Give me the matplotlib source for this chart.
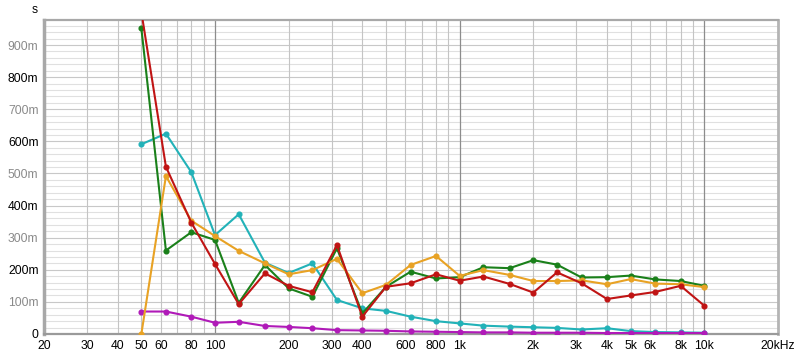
import numpy as np
import matplotlib
matplotlib.use("Agg")
import matplotlib.pyplot as plt

# 1/3 octave band centres (Hz)
freqs = [50, 63, 80, 100, 125, 160, 200, 250, 315, 400, 500, 630, 800,
         1000, 1250, 1600, 2000, 2500, 3150, 4000, 5000, 6300, 8000, 10000]

# decay times (s)
green = [0.952, 0.260, 0.317, 0.293, 0.097, 0.215, 0.142, 0.116, 0.267, 0.064,
         0.147, 0.194, 0.173, 0.177, 0.208, 0.205, 0.230, 0.216, 0.176, 0.177,
         0.182, 0.170, 0.165, 0.150]
red = [1.003, 0.521, 0.347, 0.218, 0.093, 0.189, 0.150, 0.130, 0.277, 0.054,
       0.147, 0.158, 0.186, 0.166, 0.179, 0.156, 0.129, 0.192, 0.158, 0.109,
       0.120, 0.131, 0.150, 0.088]
orange = [0.0, 0.492, 0.353, 0.305, 0.259, 0.220, 0.186, 0.199, 0.234, 0.127,
          0.153, 0.215, 0.243, 0.181, 0.199, 0.184, 0.165, 0.165, 0.167, 0.155,
          0.171, 0.157, 0.155, 0.146]
cyan = [0.591, 0.624, 0.504, 0.308, 0.373, 0.222, 0.190, 0.220, 0.106, 0.080,
        0.072, 0.054, 0.040, 0.033, 0.026, 0.023, 0.021, 0.019, 0.014, 0.018,
        0.009, 0.006, 0.005, 0.004]
purple = [0.070, 0.070, 0.054, 0.035, 0.038, 0.025, 0.022, 0.018, 0.012, 0.011,
          0.010, 0.008, 0.007, 0.006, 0.005, 0.005, 0.004, 0.004, 0.004, 0.003,
          0.003, 0.003, 0.003, 0.003]

xtick_vals = [20, 30, 40, 50, 60, 80, 100, 200, 300, 400, 600, 800, 1000,
              2000, 3000, 4000, 5000, 6000, 8000, 10000, 20000]
xtick_labels = ["20", "30", "40", "50", "60", "80", "100", "200", "300", "400",
                "600", "800", "1k", "2k", "3k", "4k", "5k", "6k", "8k", "10k",
                "20kHz"]
ytick_vals = [0, 0.1, 0.2, 0.3, 0.4, 0.5, 0.6, 0.7, 0.8, 0.9]
ytick_labels = ["0", "100m", "200m", "300m", "400m", "500m", "600m", "700m",
                "800m", "900m"]

plt.rcParams['font.family'] = ['Liberation Sans', 'DejaVu Sans']

fig = plt.figure(figsize=(8, 3.6), dpi=100)
ax = fig.add_axes([44/800, 26/360, 734/800, 314/360])
ax.set_xscale('log')
ax.set_xlim(20, 20000)
ax.set_ylim(0, 0.978)

# grid
for y in np.arange(0.02, 0.97, 0.02):
    major = abs(y*10 - round(y*10)) < 1e-6
    ax.axhline(y, color='#c8c8c8' if major else '#e0e0e0', lw=0.8, zorder=0)
for dec in [10, 100, 1000]:
    for m in range(2, 10):
        f = dec*m
        if 20 < f < 20000:
            ax.axvline(f, color='#c4c4c4', lw=0.8, zorder=0)
for f in [100, 1000, 10000]:
    ax.axvline(f, color='#8c8c8c', lw=0.9, zorder=0)

series = [(cyan, '#22b2b8'), (purple, '#b01ab8'), (green, '#1a801a'),
          (orange, '#e8a224'), (red, '#c01414')]
for vals, col in series:
    ax.plot(freqs, vals, color=col, lw=1.5, marker='o', ms=3.4,
            clip_on=True, zorder=3)

ax.set_xticks(xtick_vals)
ax.set_xticklabels(xtick_labels)
ax.xaxis.set_minor_locator(matplotlib.ticker.NullLocator())
ax.set_yticks(ytick_vals)
ax.set_yticklabels(ytick_labels)
ax.tick_params(length=0, labelsize=8.7, pad=4)
for i, lab in enumerate(ax.get_yticklabels()):
    lab.set_color('black' if i % 2 == 0 else '#8a8a8a')

ax.spines['left'].set_color('#a8a8a8')
ax.spines['left'].set_linewidth(2.5)
ax.spines['top'].set_color('#a8a8a8')
ax.spines['top'].set_linewidth(1.6)
ax.spines['right'].set_color('#b4b4b4')
ax.spines['right'].set_linewidth(2.0)
ax.spines['bottom'].set_color('#9a9a9a')
ax.spines['bottom'].set_linewidth(1.6)

fig.text(35/800, 1 - 10/360, 's', ha='center', va='center', fontsize=8.7)

fig.savefig('out.png', dpi=100)
